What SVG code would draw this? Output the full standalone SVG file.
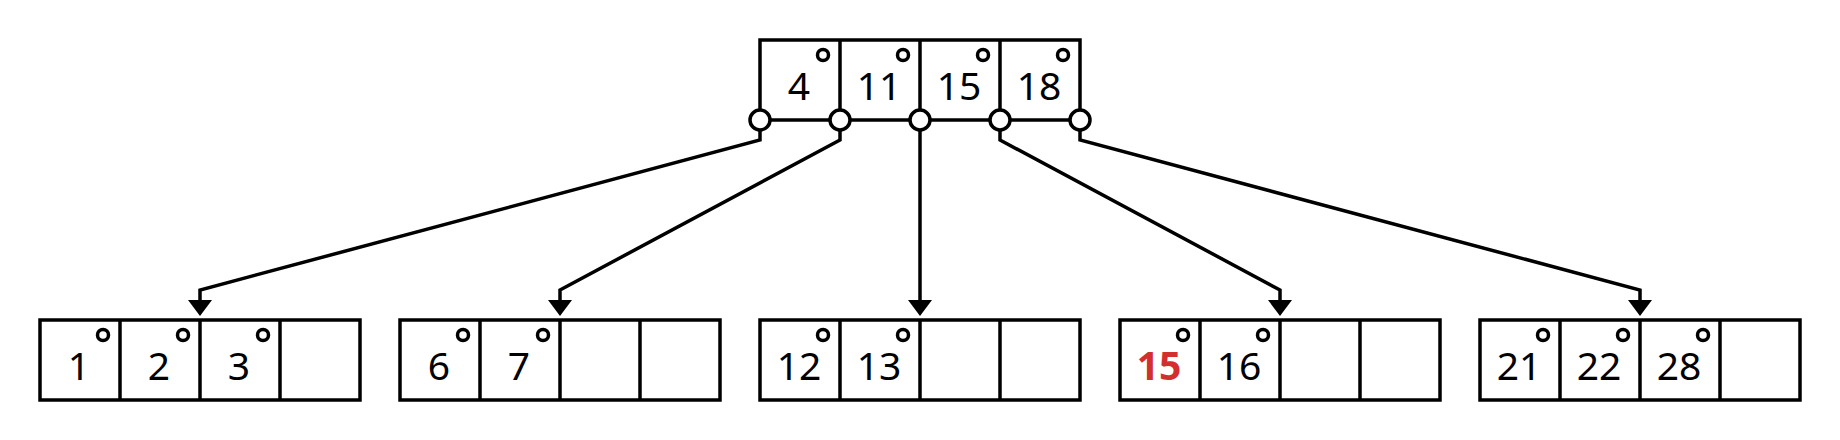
<svg xmlns="http://www.w3.org/2000/svg" width="1840" height="440" viewBox="0 0 1840 440">
<defs>
<style>
.box{fill:#fff;stroke:#000;stroke-width:3.5}
.div{stroke:#000;stroke-width:3.5;fill:none}
.dot{fill:#fff;stroke:#000;stroke-width:3.5}
.ptr{fill:#fff;stroke:#000;stroke-width:3.5}
.t{font-family:"Noto Sans","Open Sans","DejaVu Sans",sans-serif;font-size:39px;text-anchor:middle;fill:#000}
.red{fill:#d32f2f;font-weight:bold}
.conn{fill:none;stroke:#000;stroke-width:3.5}
</style>
<marker id="arr" viewBox="0 -12 16 24" refX="0" refY="0" markerWidth="16" markerHeight="24" markerUnits="userSpaceOnUse" orient="auto">
<path d="M0,-12 L16,0 L0,12 z" fill="#000"/>
</marker>
</defs>
<rect width="1840" height="440" fill="#fff"/>
<g id="root">
<rect class="box" x="760" y="40" width="320" height="80"/>
<path class="div" d="M840,40V120M920,40V120M1000,40V120"/>
<circle class="dot" cx="823" cy="55" r="5.5"/>
<circle class="dot" cx="903" cy="55" r="5.5"/>
<circle class="dot" cx="983" cy="55" r="5.5"/>
<circle class="dot" cx="1063" cy="55" r="5.5"/>
<text class="t" x="799" y="100">4</text>
<text class="t" x="879" y="100">11</text>
<text class="t" x="959" y="100">15</text>
<text class="t" x="1039" y="100">18</text>
<circle class="ptr" cx="760" cy="120" r="10"/>
<circle class="ptr" cx="840" cy="120" r="10"/>
<circle class="ptr" cx="920" cy="120" r="10"/>
<circle class="ptr" cx="1000" cy="120" r="10"/>
<circle class="ptr" cx="1080" cy="120" r="10"/>
</g>
<g id="connectors">
<path class="conn" d="M760,130V140L200,290V300" marker-end="url(#arr)"/>
<path class="conn" d="M840,130V140L560,290V300" marker-end="url(#arr)"/>
<path class="conn" d="M920,130V300" marker-end="url(#arr)"/>
<path class="conn" d="M1000,130V140L1280,290V300" marker-end="url(#arr)"/>
<path class="conn" d="M1080,130V140L1640,290V300" marker-end="url(#arr)"/>
</g>
<g id="leaf1">
<rect class="box" x="40" y="320" width="320" height="80"/>
<path class="div" d="M120,320V400M200,320V400M280,320V400"/>
<circle class="dot" cx="103" cy="335" r="5.5"/>
<circle class="dot" cx="183" cy="335" r="5.5"/>
<circle class="dot" cx="263" cy="335" r="5.5"/>
<text class="t" x="79" y="380">1</text>
<text class="t" x="159" y="380">2</text>
<text class="t" x="239" y="380">3</text>
</g>
<g id="leaf2">
<rect class="box" x="400" y="320" width="320" height="80"/>
<path class="div" d="M480,320V400M560,320V400M640,320V400"/>
<circle class="dot" cx="463" cy="335" r="5.5"/>
<circle class="dot" cx="543" cy="335" r="5.5"/>
<text class="t" x="439" y="380">6</text>
<text class="t" x="519" y="380">7</text>
</g>
<g id="leaf3">
<rect class="box" x="760" y="320" width="320" height="80"/>
<path class="div" d="M840,320V400M920,320V400M1000,320V400"/>
<circle class="dot" cx="823" cy="335" r="5.5"/>
<circle class="dot" cx="903" cy="335" r="5.5"/>
<text class="t" x="799" y="380">12</text>
<text class="t" x="879" y="380">13</text>
</g>
<g id="leaf4">
<rect class="box" x="1120" y="320" width="320" height="80"/>
<path class="div" d="M1200,320V400M1280,320V400M1360,320V400"/>
<circle class="dot" cx="1183" cy="335" r="5.5"/>
<circle class="dot" cx="1263" cy="335" r="5.5"/>
<text class="t red" x="1159" y="380">15</text>
<text class="t" x="1239" y="380">16</text>
</g>
<g id="leaf5">
<rect class="box" x="1480" y="320" width="320" height="80"/>
<path class="div" d="M1560,320V400M1640,320V400M1720,320V400"/>
<circle class="dot" cx="1543" cy="335" r="5.5"/>
<circle class="dot" cx="1623" cy="335" r="5.5"/>
<circle class="dot" cx="1703" cy="335" r="5.5"/>
<text class="t" x="1519" y="380">21</text>
<text class="t" x="1599" y="380">22</text>
<text class="t" x="1679" y="380">28</text>
</g>
</svg>
